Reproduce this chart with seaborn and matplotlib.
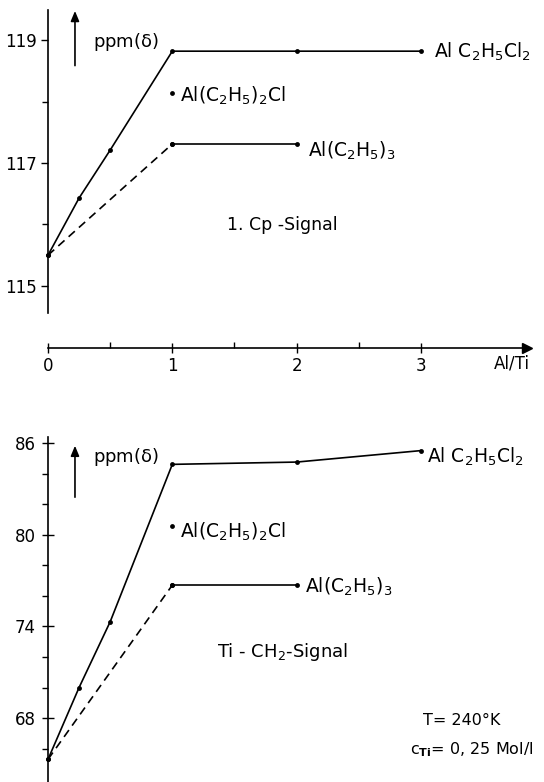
import matplotlib
matplotlib.use("Agg")
import matplotlib.pyplot as plt
from matplotlib.ticker import FixedLocator
import seaborn as sns
import pandas as pd

# ---------------- data ----------------
ratio_cl2 = [0, 0.25, 0.5, 1, 2, 3]
ratio_et3 = [0, 1, 2]
ratio_et2cl = [1]

cp_cl2 = [115.5, 116.43, 117.21, 118.82, 118.82, 118.82]
cp_et3 = [115.5, 117.31, 117.31]
cp_et2cl = [118.14]

ti_cl2 = [65.3, 70.0, 74.3, 84.6, 84.75, 85.5]
ti_et3 = [65.3, 76.7, 76.7]
ti_et2cl = [80.6]

x_ticks = [0, 1, 2, 3]
x_minor = [0.5, 1.5, 2.5]
cp_yticks = [115, 117, 119]
cp_yminor = [116, 118]
ti_yticks = [68, 74, 80, 86]
ti_yminor = [66, 70, 72, 76, 78, 82, 84]

lbl_cl2 = r"Al C$_2$H$_5$Cl$_2$"
lbl_et2cl = r"Al(C$_2$H$_5$)$_2$Cl"
lbl_et3 = r"Al(C$_2$H$_5$)$_3$"

sns.set_style("white")
plt.rcParams['font.family'] = ['DejaVu Sans']
plt.rcParams['mathtext.default'] = 'regular'
for k in ('text.color', 'xtick.color', 'ytick.color', 'axes.labelcolor', 'axes.edgecolor'):
    plt.rcParams[k] = 'black'
FS = 12
LFS = 13.5

W, H = 544, 782
fig = plt.figure(figsize=(W / 100, H / 100), dpi=100)

def px_axes(left, right, top, bottom):
    return fig.add_axes([left / W, (H - bottom) / H, (right - left) / W, (bottom - top) / H])

ax1 = px_axes(48, 526.6, 10, 348)
ax2 = px_axes(48, 526.6, 437, 782)

LW = 1.2
dash = (0, (5, 3.3))

def draw(ax, cl2, et3, et2cl):
    d1 = pd.DataFrame({"x": ratio_cl2, "y": cl2})
    d2 = pd.DataFrame({"x": ratio_et3, "y": et3})
    d3 = pd.DataFrame({"x": ratio_et2cl, "y": et2cl})
    sns.lineplot(data=d1, x="x", y="y", ax=ax, color="k", lw=LW, marker="o",
                 markersize=3.5, markeredgewidth=0, clip_on=False)
    sns.lineplot(data=d2.iloc[:2], x="x", y="y", ax=ax, color="k", lw=LW,
                 linestyle=dash, marker="o", markersize=3.5, markeredgewidth=0, clip_on=False)
    sns.lineplot(data=d2.iloc[1:], x="x", y="y", ax=ax, color="k", lw=LW,
                 marker="o", markersize=3.5, markeredgewidth=0, clip_on=False)
    sns.scatterplot(data=d3, x="x", y="y", ax=ax, color="k", s=12, linewidth=0, clip_on=False)
    ax.set_xlabel("")
    ax.set_ylabel("")

draw(ax1, cp_cl2, cp_et3, cp_et2cl)
draw(ax2, ti_cl2, ti_et3, ti_et2cl)

for ax in (ax1, ax2):
    ax.set_xlim(0, 3.85)
    ax.set_facecolor("none")
    for s in ("top", "right"):
        ax.spines[s].set_visible(False)
    ax.spines["left"].set_color("k")
    ax.spines["left"].set_linewidth(1.2)

# top panel axes
ax1.set_ylim(113.99, 119.49)
ax1.spines["left"].set_bounds(114.56, 119.49)
ax1.spines["bottom"].set_color("k")
ax1.spines["bottom"].set_linewidth(1.2)
ax1.set_yticks(cp_yticks)
ax1.set_yticklabels([str(v) for v in cp_yticks], fontsize=FS)
ax1.yaxis.set_minor_locator(FixedLocator(cp_yminor))
ax1.tick_params(axis="y", which="major", direction="out", length=5, width=1, color="k", left=True, pad=3)
ax1.tick_params(axis="y", which="minor", direction="out", length=4, width=1, color="k", left=True)
ax1.set_xticks(x_ticks)
ax1.set_xticklabels([str(v) for v in x_ticks], fontsize=FS)
ax1.xaxis.set_minor_locator(FixedLocator(x_minor))
ax1.tick_params(axis="x", which="major", direction="inout", length=7, width=1, color="k", bottom=True, pad=3)
ax1.tick_params(axis="x", which="minor", direction="in", length=4, width=1, color="k", bottom=True)
ax1.plot(1, 0, ">", color="k", markersize=7, transform=ax1.transAxes, clip_on=False)
ax1.text(3.59, 113.74, "Al/Ti", fontsize=FS, ha="left", va="center")

# bottom panel axes
ax2.set_ylim(63.82, 86.39)
ax2.spines["bottom"].set_visible(False)
ax2.set_xticks([])
ax2.set_yticks(ti_yticks)
ax2.set_yticklabels([str(v) for v in ti_yticks], fontsize=FS)
ax2.yaxis.set_minor_locator(FixedLocator(ti_yminor))
ax2.tick_params(axis="y", which="major", direction="inout", length=8, width=1, color="k", left=True, pad=5)
ax2.tick_params(axis="y", which="minor", direction="out", length=4, width=1, color="k", left=True)

# up arrows and ppm labels
arrow = dict(arrowstyle="-|>,head_length=0.6,head_width=0.25", color="k", lw=1.2)
ax1.annotate("", xy=(0.217, 119.52), xytext=(0.217, 118.54), arrowprops=arrow, annotation_clip=False)
ax1.text(0.36, 118.97, r"ppm($\delta$)", fontsize=13, ha="left", va="center")
ax2.annotate("", xy=(0.217, 86.0), xytext=(0.217, 82.27), arrowprops=arrow, annotation_clip=False)
ax2.text(0.36, 85.1, r"ppm($\delta$)", fontsize=13, ha="left", va="center")

# series labels (top)
ax1.text(3.105, 118.72, lbl_cl2, fontsize=LFS, ha="left", va="baseline")
ax1.text(1.06, 117.99, lbl_et2cl, fontsize=LFS, ha="left", va="baseline")
ax1.text(2.09, 117.10, lbl_et3, fontsize=LFS, ha="left", va="baseline")
ax1.text(1.44, 115.91, "1. Cp -Signal", fontsize=FS + 0.5, ha="left", va="baseline")

# series labels (bottom)
ax2.text(3.05, 84.7, lbl_cl2, fontsize=LFS, ha="left", va="baseline")
ax2.text(1.06, 79.8, lbl_et2cl, fontsize=LFS, ha="left", va="baseline")
ax2.text(2.07, 76.2, lbl_et3, fontsize=LFS, ha="left", va="baseline")
ax2.text(1.36, 71.97, r"Ti - CH$_2$-Signal", fontsize=FS + 1, ha="left", va="baseline")
ax2.text(3.02, 67.54, "T= 240°K", fontsize=FS - 0.5, ha="left", va="baseline")
ax2.text(2.91, 65.6, r"c$_{\mathbf{Ti}}$= 0, 25 Mol/l", fontsize=FS - 0.5, ha="left", va="baseline")

fig.savefig("out.png", dpi=100)
